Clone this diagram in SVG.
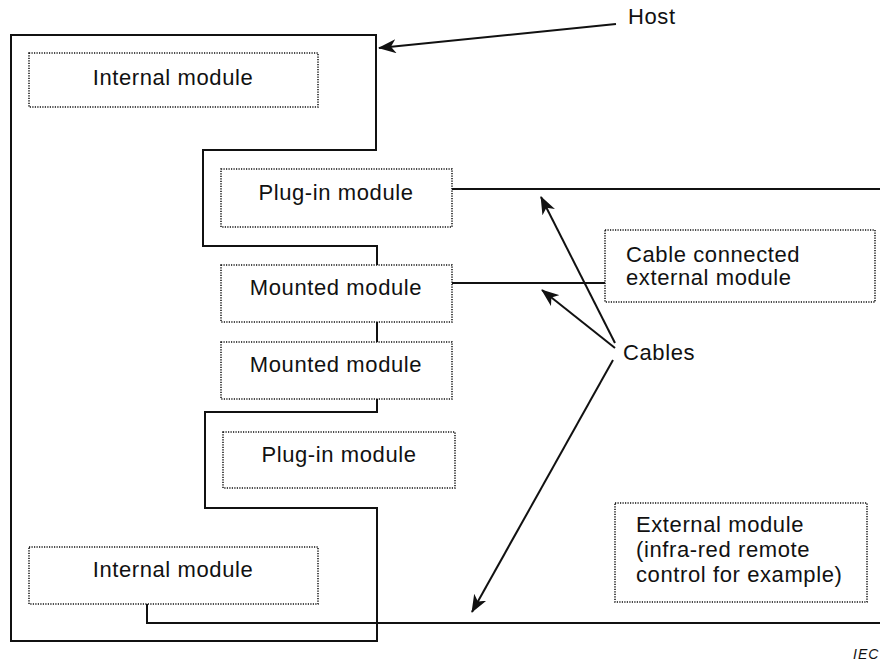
<svg xmlns="http://www.w3.org/2000/svg" width="880" height="662" viewBox="0 0 880 662">
<style>
.t{font-family:"Liberation Sans",Arial,sans-serif;font-size:22px;letter-spacing:0.6px;fill:#111}
.c{text-anchor:middle}
.box{fill:none;stroke:#111;stroke-width:1.5;stroke-dasharray:1.2 1.3}
.host{fill:none;stroke:#111;stroke-width:2;stroke-linejoin:miter}
.cable{fill:none;stroke:#111;stroke-width:2}
.arr{fill:none;stroke:#111;stroke-width:2;marker-end:url(#ah)}
</style>
<defs>
<marker id="ah" viewBox="0 0 18 14" refX="17" refY="7" markerWidth="18" markerHeight="14" markerUnits="userSpaceOnUse" orient="auto">
<path d="M0,0 L18,7 L0,14 L5,7 Z" fill="#111"/>
</marker>
</defs>
<rect width="880" height="662" fill="#fff"/>
<g id="host">
<path class="host" d="M11,641 V35 H376 V150 H203 V246 H377 V265"/>
<path class="host" d="M377,322 V342"/>
<path class="host" d="M377,399 V412 H205 V508 H377 V641 H10"/>
<text class="t" x="628" y="24">Host</text>
</g>
<g id="internal-top">
<rect class="box" x="29" y="53" width="289" height="54"/>
<text class="t c" x="173" y="85">Internal module</text>
</g>
<g id="plugin-1">
<rect class="box" x="221" y="169" width="231" height="58"/>
<text class="t c" x="336" y="200">Plug-in module</text>
</g>
<g id="mounted-1">
<rect class="box" x="221" y="265" width="231" height="57"/>
<text class="t c" x="336" y="295">Mounted module</text>
</g>
<g id="mounted-2">
<rect class="box" x="221" y="342" width="231" height="57"/>
<text class="t c" x="336" y="372">Mounted module</text>
</g>
<g id="plugin-2">
<rect class="box" x="223" y="432" width="232" height="56"/>
<text class="t c" x="339" y="462">Plug-in module</text>
</g>
<g id="internal-bottom">
<rect class="box" x="29" y="547" width="289" height="57"/>
<text class="t c" x="173" y="577">Internal module</text>
</g>
<g id="cable-external">
<rect class="box" x="605" y="230" width="270" height="72"/>
<text class="t" x="626" y="262">Cable connected</text>
<text class="t" x="626" y="285">external module</text>
</g>
<g id="external">
<rect class="box" x="615" y="503" width="252" height="99"/>
<text class="t" x="636" y="532">External module</text>
<text class="t" x="636" y="557">(infra-red remote</text>
<text class="t" x="636" y="582">control for example)</text>
</g>
<g id="cables-label">
<text class="t" x="623" y="360">Cables</text>
</g>
<g id="connectors">
<path class="cable" d="M452,189 H880"/>
<path class="cable" d="M452,283 H605"/>
<path class="cable" d="M147,604 V623 H880"/>
<path class="arr" d="M616,24 L379,48"/>
<path class="arr" d="M615,343 L541,197"/>
<path class="arr" d="M615,348 L542,290"/>
<path class="arr" d="M613,360 L472,612"/>
</g>
<text x="853" y="659" style="font-family:'Liberation Sans',Arial,sans-serif;font-size:14px;font-style:italic;letter-spacing:1px;fill:#111">IEC</text>
</svg>
